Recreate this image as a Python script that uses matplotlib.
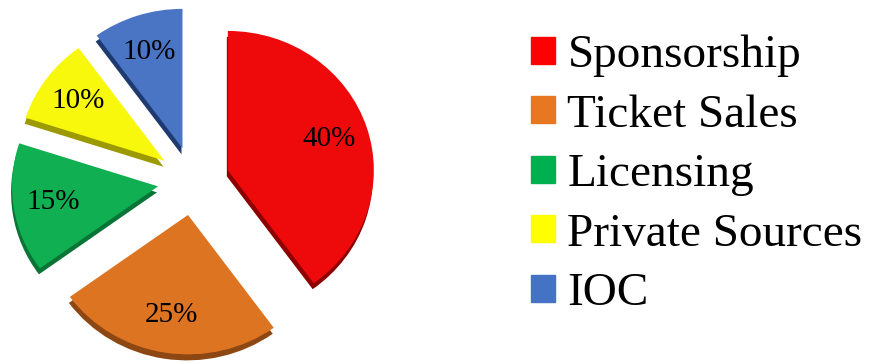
import matplotlib.pyplot as plt

# revenue shares
labels = ['Sponsorship', 'Ticket Sales', 'Licensing', 'Private Sources', 'IOC']
values = [40, 25, 15, 10, 10]

top_colors = ['#ee0a0a', '#dd7421', '#10b052', '#f8f80c', '#4a74c4']
side_colors = ['#8e0000', '#8c4712', '#0a7436', '#9c9a00', '#1e3a70']
legend_colors = ['#ff0000', '#e87722', '#00b050', '#ffff00', '#4472c4']

squash = 0.955          # slight vertical tilt of the pie
explode = [36] * 5
radius = 146
cx, cy = 193.6, (364 - 181) / squash

fig = plt.figure(figsize=(8.72, 3.64), dpi=100)
ax = fig.add_axes([0, 0, 1, 1])

# side / depth of the 3d slices
ax.pie(values, explode=explode, colors=side_colors, startangle=90,
       counterclock=False, radius=radius, center=(cx - 1, cy - 6 / squash),
       wedgeprops=dict(linewidth=0))

# top faces
wedges, texts, autotexts = ax.pie(
    values, explode=explode, colors=top_colors, startangle=90,
    counterclock=False, radius=radius, center=(cx, cy),
    autopct='%.0f%%', pctdistance=0.73,
    wedgeprops=dict(linewidth=0),
    textprops=dict(fontsize=21, family='Liberation Serif', color='black'))

ax.set_aspect('auto')
ax.set_xlim(0, 872)
ax.set_ylim(0, 364 / squash)
ax.axis('off')

handles = [plt.Rectangle((0, 0), 1, 1, color=c) for c in legend_colors]
ax.legend(handles, labels, loc='upper left', bbox_to_anchor=(0.609, 0.905),
          bbox_transform=fig.transFigure, frameon=False,
          prop=dict(family='Liberation Serif', size=34),
          handlelength=0.51, handleheight=0.51, handletextpad=0.26,
          labelspacing=0.36, borderpad=0, borderaxespad=0)

fig.savefig('out.png', dpi=100)
